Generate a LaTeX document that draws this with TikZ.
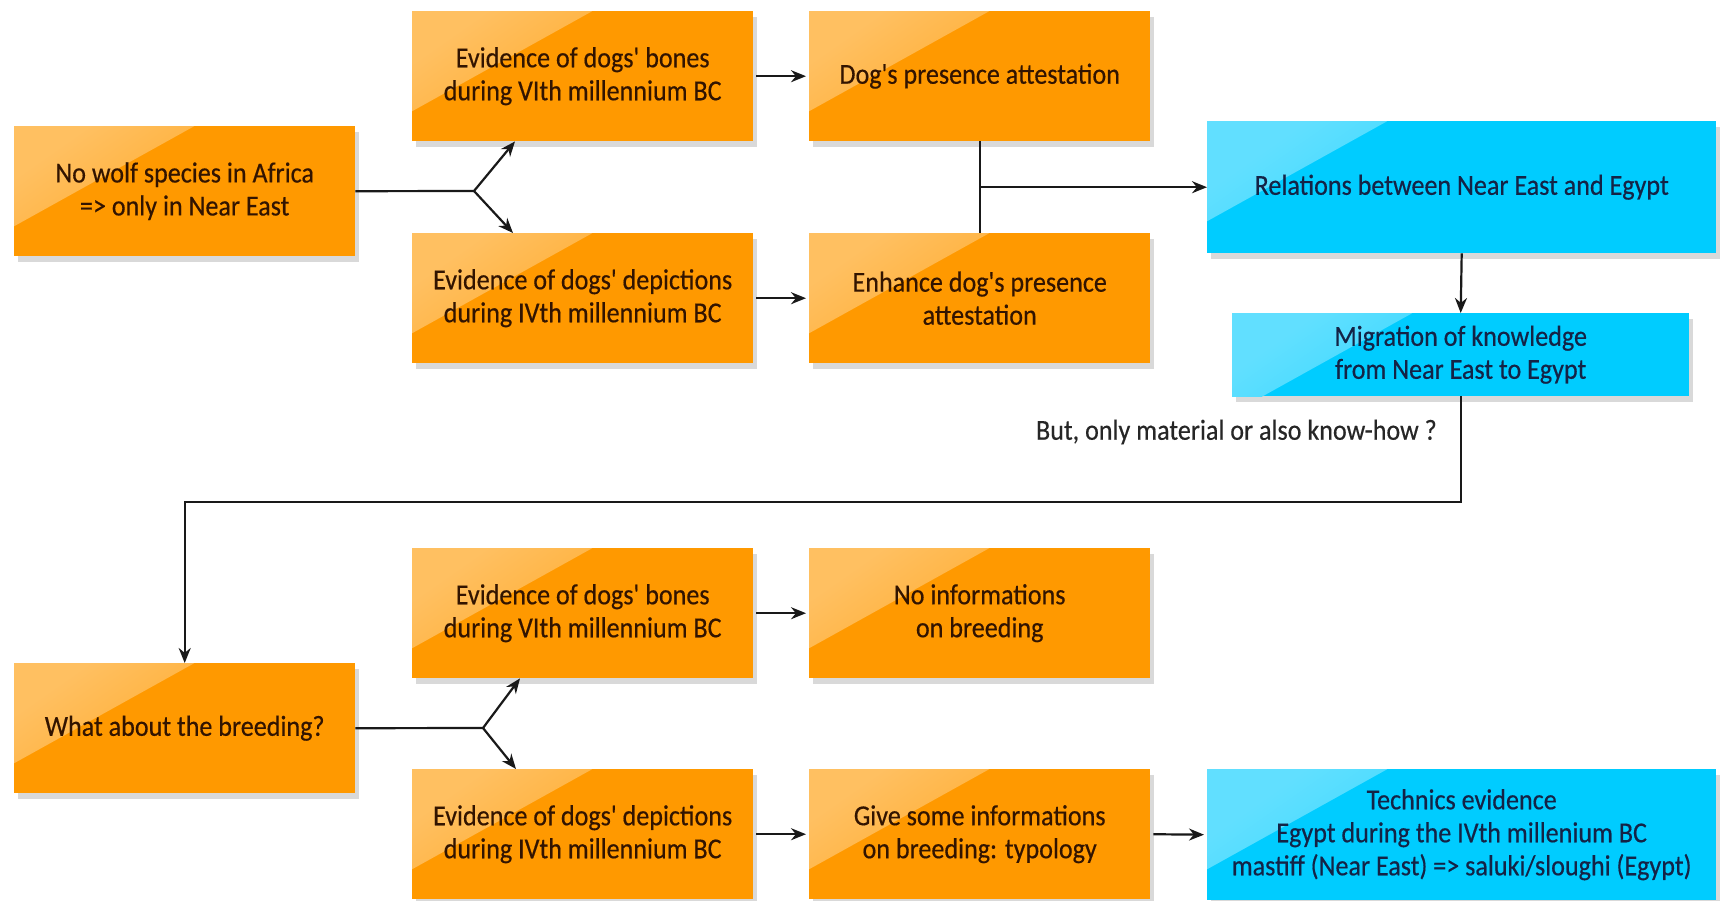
\documentclass[tikz,border=0pt]{standalone}
\usepackage{fontspec}
\setmainfont{Carlito}[FakeStretch=0.9, FakeBold=0.4, Ligatures=TeXOff]
\usetikzlibrary{shadows,arrows.meta}
\definecolor{org}{RGB}{255,153,0}
\definecolor{cyanb}{RGB}{0,204,255}
\definecolor{brn}{RGB}{50,20,0}
\definecolor{navy}{RGB}{20,35,70}
\tikzset{
  base/.style={rectangle, anchor=north west, inner sep=0pt, align=center,
    font=\fontsize{29}{33}\selectfont,
    drop shadow={shadow xshift=4pt, shadow yshift=-6pt, opacity=0.3, fill=black!50}},
  gloss/.style={path picture={
      \shade[top color=#1!62!white, bottom color=#1!96!white, shading angle=35]
        (path picture bounding box.north west) -- ([xshift=180pt]path picture bounding box.north west) -- ([yshift=-100pt]path picture bounding box.north west) -- cycle;
    }},
  obox/.style={base, fill=org, gloss=org, text=brn, minimum width=341pt, minimum height=130pt},
  bbox/.style={base, fill=cyanb, gloss=cyanb, text=navy},
  con/.style={draw=black!90, line width=2.2pt},
  arr/.style={con, -{Stealth[length=15pt,width=12pt]}},
  lab/.style={font=\fontsize{29}{33}\selectfont, text=black!85, inner sep=0pt}
}
\begin{document}
\begin{tikzpicture}[x=1pt,y=-1pt]
\useasboundingbox (0,0) rectangle (1723,900);
% top half
\node[obox] (wolf) at (14,126) {No wolf species in Africa\\=> only in Near East};
\node[obox] (bones1) at (412,11) {Evidence of dogs' bones\\during VIth millennium BC};
\node[obox] (dog) at (809,11) {Dog's presence attestation};
\node[obox] (dep1) at (412,233) {Evidence of dogs' depictions\\during IVth millennium BC};
\node[obox] (enh) at (809,233) {Enhance dog's presence\\attestation};
\node[bbox, minimum width=509pt, minimum height=132pt] (rel) at (1207,121) {Relations between Near East and Egypt};
\node[bbox, minimum width=457pt, minimum height=83pt] (mig) at (1232,313) {Migration of knowledge\\from Near East to Egypt};
\node[lab, anchor=east] (q) at (1437,432) {But, only material or also know-how ?};
% bottom half
\node[obox] (what) at (14,663) {What about the breeding?};
\node[obox] (bones2) at (412,548) {Evidence of dogs' bones\\during VIth millennium BC};
\node[obox] (noinf) at (809,548) {No informations\\on breeding};
\node[obox] (dep2) at (412,769) {Evidence of dogs' depictions\\during IVth millennium BC};
\node[obox] (give) at (809,769) {Give some informations\\on breeding: typology};
\node[bbox, minimum width=509pt, minimum height=131pt] (tech) at (1207,769) {Technics evidence\\Egypt during the IVth millenium BC\\mastiff (Near East) => saluki/sloughi (Egypt)};
% connectors top
\coordinate (b1) at (474,191);
\draw[con] (wolf.east) -- (b1);
\draw[arr] (b1) -- ([xshift=103pt]bones1.south west);
\draw[arr] (b1) -- ([xshift=101pt]dep1.north west);
\draw[arr, shorten <=3pt, shorten >=3pt] (bones1.east) -- (dog.west);
\draw[arr, shorten <=3pt, shorten >=3pt] (dep1.east) -- (enh.west);
\draw[con] (dog.south) -- (enh.north);
\draw[arr] (dog.south |- rel.west) -- (rel.west);
\draw[arr] (rel.south) -- (mig.north);
\coordinate (turn) at (mig.south |- 0,502);
\draw[arr] (mig.south) -- (turn) -| (what.north);
% connectors bottom
\coordinate (b2) at (483,728);
\draw[con] (what.east) -- (b2);
\draw[arr] (b2) -- ([xshift=108pt]bones2.south west);
\draw[arr] (b2) -- ([xshift=104pt]dep2.north west);
\draw[arr, shorten <=3pt, shorten >=3pt] (bones2.east) -- (noinf.west);
\draw[arr, shorten <=3pt, shorten >=3pt] (dep2.east) -- (give.west);
\draw[arr, shorten <=3pt, shorten >=3pt] (give.east) -- (tech.west);
\end{tikzpicture}
\end{document}
